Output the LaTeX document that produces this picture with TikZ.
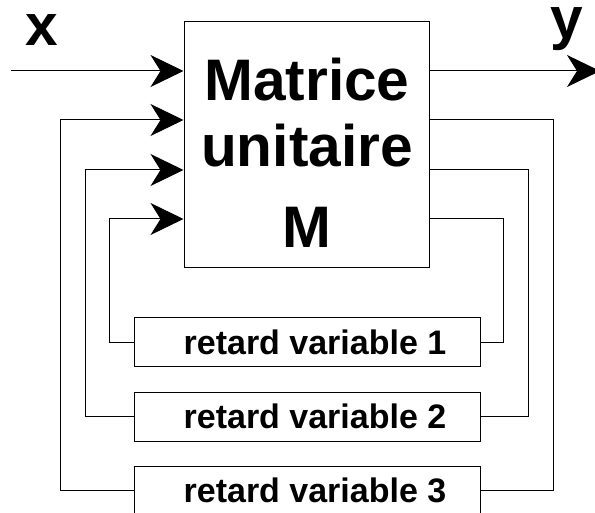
\documentclass[tikz,border=0pt]{standalone}
\usepackage{fontspec}
\setmainfont{Liberation Sans}
\usetikzlibrary{arrows.meta}
\begin{document}
\begin{tikzpicture}[x=1pt,y=-1pt,
  wire/.style={line width=1pt},
  arr/.style={wire,-{Stealth[length=33pt,width=32pt,inset=10pt]}},
  boxstyle/.style={draw,line width=1pt,inner sep=0pt},
  bigtxt/.style={font=\fontsize{58.6}{66}\selectfont\bfseries,inner sep=0pt,anchor=base},
  iotxt/.style={bigtxt,text height=31pt},
  rtxt/.style={font=\fontsize{34}{40}\selectfont\bfseries}]
\useasboundingbox (0,0) rectangle (595,513);
% main box
\node[boxstyle,minimum width=245pt,minimum height=246pt] (M) at (306.5,145) {};
\node[bigtxt] (l1) at (307,101) {Matrice};
\node[bigtxt] (l2) at (307,167) {unitaire};
\node[bigtxt] (l3) at (307,248) {M};
% labels
\node[iotxt] (xl) at (42,46) {x};
\node[iotxt] (yl) at (567,39) {y};
% delay boxes
\node[boxstyle,rtxt,minimum width=346pt,minimum height=49pt] (r1) at (307,342.5) {\hspace*{16pt}retard variable 1};
\node[boxstyle,rtxt,minimum width=346pt,minimum height=49pt] (r2) at (307,416.5) {\hspace*{16pt}retard variable 2};
\node[boxstyle,rtxt,minimum width=346pt,minimum height=49pt] (r3) at (307,490.5) {\hspace*{16pt}retard variable 3};
% input / output
\coordinate (xin) at (11,71);
\coordinate (yout) at (600,71);
\draw[arr] (xin) -- (xin -| M.west);
\draw[arr] (yout -| M.east) -- (yout);
% feedback loops
\draw[wire] (M.east |- 0,219) -| (503,0 |- r1.east) -- (r1.east);
\draw[wire] (M.east |- 0,170) -| (528,0 |- r2.east) -- (r2.east);
\draw[wire] (M.east |- 0,120) -| (553,0 |- r3.east) -- (r3.east);
\draw[arr] (r1.west) -| (109,219) -- (M.west |- 0,219);
\draw[arr] (r2.west) -| (85,170) -- (M.west |- 0,170);
\draw[arr] (r3.west) -| (60,120) -- (M.west |- 0,120);
\end{tikzpicture}
\end{document}
